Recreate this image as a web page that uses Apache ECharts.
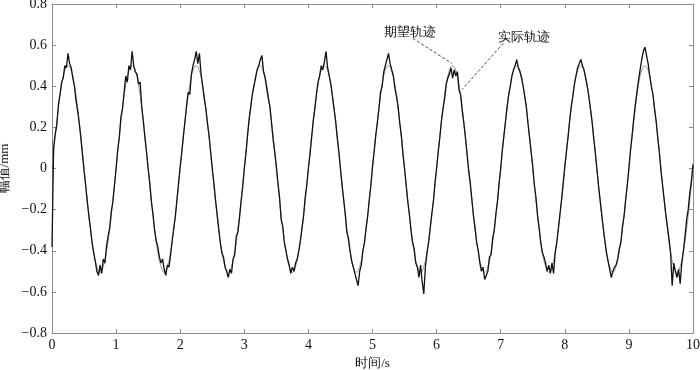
<!DOCTYPE html>
<html>
<head>
<meta charset="utf-8">
<script src="https://cdn.jsdelivr.net/npm/echarts@6/dist/echarts.min.js"></script>
<style>
html,body{margin:0;padding:0;background:#fff;}
#chart{width:700px;height:370px;}
</style>
</head>
<body>
<div id="chart"></div>
<script>
// ---- data ----
const desiredStep = 0.05;   // s between desired-trajectory samples
const desiredY = [
0,0.155,0.294,0.405,0.476,0.5,0.476,0.405,0.294,0.155,0,-0.155,-0.294,-0.405,-0.476,-0.505,-0.476,-0.405,-0.294,-0.155,
0,0.155,0.294,0.405,0.476,0.5,0.476,0.405,0.294,0.155,0,-0.155,-0.294,-0.405,-0.476,-0.505,-0.476,-0.405,-0.294,-0.155,
0,0.155,0.294,0.405,0.476,0.5,0.476,0.405,0.294,0.155,0,-0.155,-0.294,-0.405,-0.476,-0.505,-0.476,-0.405,-0.294,-0.155,
0,0.155,0.294,0.405,0.476,0.5,0.476,0.405,0.294,0.155,0,-0.155,-0.294,-0.405,-0.476,-0.505,-0.476,-0.405,-0.294,-0.155,
0,0.155,0.294,0.405,0.476,0.5,0.476,0.405,0.294,0.155,0,-0.155,-0.294,-0.405,-0.476,-0.505,-0.476,-0.405,-0.294,-0.155,
0,0.155,0.294,0.405,0.476,0.5,0.476,0.405,0.294,0.155,0,-0.155,-0.294,-0.405,-0.476,-0.505,-0.476,-0.405,-0.294,-0.155,
0,0.155,0.294,0.405,0.476,0.5,0.476,0.405,0.294,0.155,0,-0.155,-0.294,-0.405,-0.476,-0.505,-0.476,-0.405,-0.294,-0.155,
0,0.155,0.294,0.405,0.476,0.5,0.476,0.405,0.294,0.155,0,-0.155,-0.294,-0.405,-0.476,-0.505,-0.476,-0.405,-0.294,-0.155,
0,0.155,0.294,0.405,0.476,0.5,0.476,0.405,0.294,0.155,0,-0.155,-0.294,-0.405,-0.476,-0.505,-0.476,-0.405,-0.294,-0.155,
0,0.155,0.294,0.405,0.476,0.5,0.476,0.405,0.294,0.155,0,-0.155,-0.294,-0.405,-0.476,-0.505,-0.476,-0.405,-0.294,-0.155,
0
];
const actualStep = 0.025;   // s between actual-trajectory samples
const actualY = [
-0.38,0.10,0.17,0.21,0.31,0.36,0.42,0.44,0.50,0.49,0.56,0.51,0.49,0.44,0.40,0.33,0.28,0.22,0.15,0.07,
-0.01,-0.08,-0.16,-0.23,-0.29,-0.36,-0.41,-0.45,-0.50,-0.52,-0.47,-0.51,-0.44,-0.46,-0.38,-0.33,-0.29,-0.21,-0.16,-0.08,
0.00,0.09,0.15,0.25,0.29,0.37,0.45,0.42,0.50,0.48,0.57,0.50,0.47,0.46,0.41,0.42,0.30,0.23,0.15,0.08,
0.00,-0.07,-0.16,-0.22,-0.30,-0.35,-0.38,-0.43,-0.46,-0.44,-0.49,-0.52,-0.47,-0.48,-0.42,-0.35,-0.29,-0.23,-0.15,-0.07,
0.01,0.08,0.16,0.23,0.31,0.37,0.36,0.46,0.50,0.53,0.57,0.51,0.56,0.46,0.40,0.34,0.29,0.22,0.16,0.08,
0.00,-0.07,-0.15,-0.22,-0.29,-0.36,-0.41,-0.43,-0.48,-0.50,-0.53,-0.49,-0.51,-0.44,-0.42,-0.33,-0.31,-0.24,-0.16,-0.09,
0.00,0.07,0.16,0.24,0.30,0.36,0.40,0.44,0.48,0.50,0.53,0.55,0.47,0.44,0.39,0.34,0.30,0.22,0.14,0.08,
0.01,-0.07,-0.14,-0.25,-0.28,-0.36,-0.40,-0.44,-0.47,-0.51,-0.48,-0.50,-0.46,-0.44,-0.40,-0.35,-0.29,-0.23,-0.14,-0.08,
0.00,0.07,0.15,0.23,0.29,0.36,0.42,0.45,0.50,0.48,0.52,0.57,0.49,0.45,0.41,0.35,0.29,0.23,0.15,0.08,
0.00,-0.08,-0.15,-0.22,-0.31,-0.34,-0.40,-0.45,-0.48,-0.51,-0.54,-0.57,-0.50,-0.47,-0.40,-0.36,-0.29,-0.23,-0.15,-0.08,
0.01,0.08,0.16,0.22,0.29,0.37,0.40,0.47,0.47,0.53,0.56,0.51,0.48,0.45,0.39,0.35,0.30,0.22,0.16,0.07,
0.00,-0.08,-0.16,-0.22,-0.30,-0.36,-0.39,-0.46,-0.48,-0.53,-0.47,-0.55,-0.61,-0.48,-0.41,-0.36,-0.29,-0.22,-0.16,-0.07,
0.00,0.08,0.15,0.23,0.29,0.34,0.41,0.44,0.46,0.49,0.44,0.48,0.45,0.47,0.38,0.36,0.28,0.22,0.15,0.07,
-0.01,-0.07,-0.15,-0.23,-0.29,-0.36,-0.40,-0.46,-0.50,-0.48,-0.54,-0.52,-0.50,-0.43,-0.42,-0.34,-0.30,-0.22,-0.16,-0.07,
0.00,0.09,0.16,0.23,0.30,0.36,0.40,0.45,0.48,0.50,0.53,0.49,0.47,0.44,0.40,0.35,0.30,0.22,0.15,0.08,
0.01,-0.08,-0.14,-0.23,-0.29,-0.36,-0.41,-0.43,-0.46,-0.50,-0.47,-0.51,-0.46,-0.51,-0.41,-0.36,-0.29,-0.22,-0.15,-0.07,
0.01,0.08,0.15,0.23,0.30,0.35,0.41,0.45,0.49,0.51,0.53,0.50,0.48,0.44,0.40,0.35,0.29,0.23,0.15,0.08,
0.00,-0.08,-0.15,-0.22,-0.29,-0.35,-0.41,-0.45,-0.49,-0.53,-0.50,-0.48,-0.47,-0.44,-0.39,-0.36,-0.28,-0.23,-0.15,-0.08,
0.00,0.09,0.16,0.24,0.31,0.37,0.43,0.48,0.53,0.57,0.59,0.55,0.51,0.45,0.40,0.36,0.29,0.23,0.15,0.08,
-0.01,-0.08,-0.15,-0.22,-0.28,-0.34,-0.41,-0.57,-0.46,-0.50,-0.53,-0.49,-0.56,-0.46,-0.40,-0.33,-0.25,-0.20,-0.12,-0.06,
0.02
];
const xTicks = [0,1,2,3,4,5,6,7,8,9,10];
const yTicks = [-0.8,-0.6,-0.4,-0.2,0,0.2,0.4,0.6,0.8];
const seriesNames = ['期望轨迹','实际轨迹'];
// annotation: label position (t, y), leader from -> to
const desiredNote = {text:'期望轨迹', at:[5.58,0.66], from:[5.63,0.633], to:[6.24,0.511]};
const actualNote  = {text:'实际轨迹', at:[7.36,0.638], from:[7.04,0.609], to:[6.40,0.385]};

// ---- chart ----
const desiredData = desiredY.map((v,i)=>[+(i*desiredStep).toFixed(3), v]);
const actualData = actualY.map((v,i)=>[+(i*actualStep).toFixed(3), v]);

const serif = 'Liberation Serif';
const axisGray = '#8c8c8c';

function fmtY(v){
  if (Math.abs(v) < 1e-9) return '0';
  return v.toFixed(1).replace('-', '\u2212');
}

const baseX = {
  type:'value', min:xTicks[0], max:xTicks[xTicks.length-1], interval:1,
  axisLine:{show:true, onZero:false, lineStyle:{color:axisGray, width:1}},
  axisTick:{show:true, inside:true, length:4, lineStyle:{color:axisGray}},
  splitLine:{show:false}
};
const baseY = {
  type:'value', min:yTicks[0], max:yTicks[yTicks.length-1], interval:0.2,
  axisLine:{show:true, onZero:false, lineStyle:{color:axisGray, width:1}},
  axisTick:{show:true, inside:true, length:4, lineStyle:{color:axisGray}},
  splitLine:{show:false}
};

const chart = echarts.init(document.getElementById('chart'), null, {renderer:'canvas'});
chart.setOption({
  animation:false,
  backgroundColor:'#fff',
  grid:{left:52, right:7, top:4, bottom:37, containLabel:false, outerBoundsMode:'none'},
  xAxis:[
    Object.assign({}, baseX, {
      position:'bottom',
      name:'时间/s', nameLocation:'middle', nameGap:23,
      nameTextStyle:{fontFamily:serif, fontSize:13, color:'#111'},
      axisLabel:{show:true, margin:5, fontFamily:serif, fontSize:14, color:'#111',
        formatter:v=>String(v)}
    }),
    Object.assign({}, baseX, {position:'top', axisLabel:{show:false}})
  ],
  yAxis:[
    Object.assign({}, baseY, {
      position:'left',
      name:'幅值/mm', nameLocation:'middle', nameGap:40, nameRotate:90,
      nameTextStyle:{fontFamily:serif, fontSize:13, color:'#111'},
      axisLabel:{show:true, margin:5, fontFamily:serif, fontSize:14, color:'#111', formatter:fmtY}
    }),
    Object.assign({}, baseY, {position:'right', axisLabel:{show:false}})
  ],
  series:[
    {
      name:seriesNames[0], type:'line', data:desiredData, xAxisIndex:0, yAxisIndex:0,
      showSymbol:false, smooth:true, lineStyle:{color:'#9a9a9a', width:1}, z:2,
      markLine:{
        silent:true, symbol:['none','none'],
        lineStyle:{color:'#222', type:[3,2], width:0.8},
        label:{show:false},
        data:[
          [{coord:desiredNote.from},{coord:desiredNote.to}],
          [{coord:actualNote.from},{coord:actualNote.to}]
        ]
      },
      markPoint:{
        silent:true, symbol:'circle', symbolSize:0,
        label:{show:true, position:'inside', fontFamily:serif, fontSize:13, color:'#111',
          formatter:p=>p.name},
        data:[
          {name:desiredNote.text, coord:desiredNote.at},
          {name:actualNote.text, coord:actualNote.at}
        ]
      }
    },
    {
      name:seriesNames[1], type:'line', data:actualData, xAxisIndex:0, yAxisIndex:0,
      showSymbol:false, lineStyle:{color:'#111', width:1.3}, z:3
    }
  ]
});
</script>
</body>
</html>
